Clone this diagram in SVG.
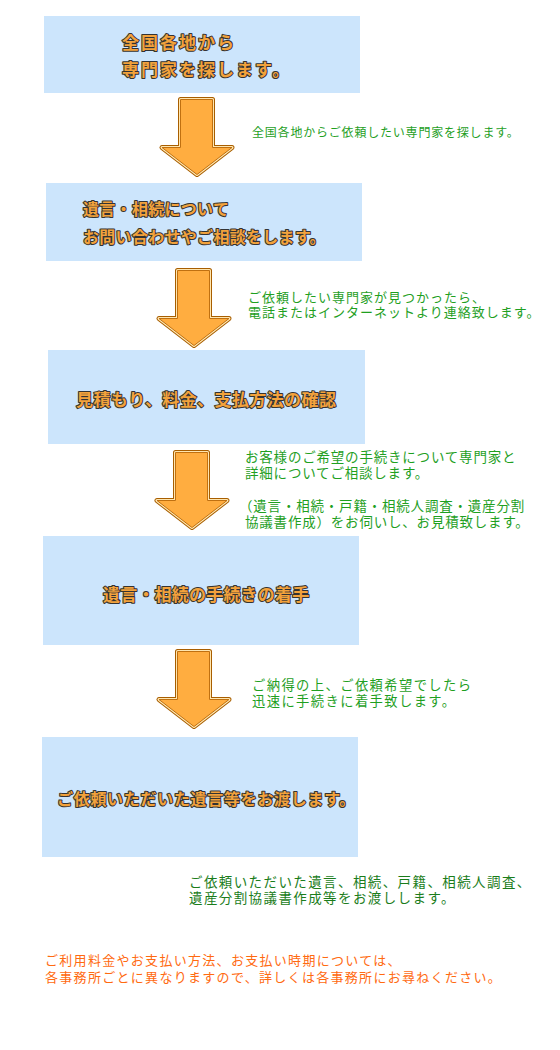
<svg xmlns="http://www.w3.org/2000/svg" xmlns:xlink="http://www.w3.org/1999/xlink" width="560" height="1050" viewBox="0 0 560 1050">
<style>
.box{fill:#cce5fc}
.bt{font-family:"Liberation Sans","Noto Sans CJK JP",sans-serif;font-weight:bold;fill:#f2a23c;stroke:#333;stroke-width:2;paint-order:stroke;stroke-linejoin:round}
.gt{font-family:"Liberation Sans","Noto Sans CJK JP",sans-serif;fill:#1fa01f}
.dg{font-family:"Liberation Sans","Noto Sans CJK JP",sans-serif;fill:#1b7d1b}
.ot{font-family:"Liberation Sans","Noto Sans CJK JP",sans-serif;fill:#ff6a10}
</style>
<defs>
<g id="arrow">
<path d="M180.5,99.5 H212.5 V147.5 H232 L197,174.5 L162,147.5 H180.5 Z" fill="none" stroke="#a85e00" stroke-width="5" stroke-linejoin="round"/>
<path d="M180.5,99.5 H212.5 V147.5 H232 L197,174.5 L162,147.5 H180.5 Z" fill="none" stroke="#ffe6b0" stroke-width="3" stroke-linejoin="round"/>
<path d="M180.5,99.5 H212.5 V147.5 H232 L197,174.5 L162,147.5 H180.5 Z" fill="#ffad40" stroke="#c07010" stroke-width="1" stroke-linejoin="round"/>
</g>
</defs>
<rect width="560" height="1050" fill="#ffffff"/>
<g id="connectors">
<use xlink:href="#arrow" href="#arrow"/>
<use xlink:href="#arrow" href="#arrow" transform="translate(-3,171)"/>
<use xlink:href="#arrow" href="#arrow" transform="translate(-5,353)"/>
<use xlink:href="#arrow" href="#arrow" transform="translate(-3,552)"/>
</g>
<g id="box1">
<rect class="box" x="44" y="16" width="316" height="77"/>
<text class="bt" font-size="17" letter-spacing="2"><tspan x="122" y="49">全国各地から</tspan><tspan x="122" y="76">専門家を探します。</tspan></text>
</g>
<g id="box2">
<rect class="box" x="46" y="183" width="316" height="78"/>
<text class="bt" font-size="16" letter-spacing="0.3"><tspan x="83" y="215">遺言・相続について</tspan><tspan x="83" y="243">お問い合わせやご相談をします。</tspan></text>
</g>
<g id="box3">
<rect class="box" x="48" y="350" width="317" height="94"/>
<text class="bt" x="76" y="406" font-size="17" letter-spacing="0.4">見積もり、料金、支払方法の確認</text>
</g>
<g id="box4">
<rect class="box" x="43" y="536" width="316" height="109"/>
<text class="bt" x="103" y="601" font-size="17" letter-spacing="0.2">遺言・相続の手続きの着手</text>
</g>
<g id="box5">
<rect class="box" x="42" y="737" width="316" height="120"/>
<text class="bt" x="57" y="805" font-size="16" letter-spacing="0.7">ご依頼いただいた遺言等をお渡します。</text>
</g>
<g id="note1">
<text class="gt" x="252" y="137" font-size="12" letter-spacing="0.8">全国各地からご依頼したい専門家を探します。</text>
</g>
<g id="note2">
<text class="gt" font-size="13" letter-spacing="1"><tspan x="248" y="302">ご依頼したい専門家が見つかったら、</tspan><tspan x="248" y="317">電話またはインターネットより連絡致します。</tspan></text>
</g>
<g id="note3">
<text class="gt" font-size="13.5" letter-spacing="0.8"><tspan x="245" y="462">お客様のご希望の手続きについて専門家と</tspan><tspan x="245" y="478">詳細についてご相談します。</tspan><tspan x="239" y="511">（遺言・相続・戸籍・相続人調査・遺産分割</tspan><tspan x="245" y="527">協議書作成）をお伺いし、お見積致します。</tspan></text>
</g>
<g id="note4">
<text class="gt" font-size="13.3" letter-spacing="1.4"><tspan x="252" y="690">ご納得の上、ご依頼希望でしたら</tspan><tspan x="252" y="705.5">迅速に手続きに着手致します。</tspan></text>
</g>
<g id="note5">
<text class="dg" font-size="13.5" letter-spacing="1.4"><tspan x="189" y="887">ご依頼いただいた遺言、相続、戸籍、相続人調査、</tspan><tspan x="189" y="903">遺産分割協議書作成等をお渡しします。</tspan></text>
</g>
<g id="note6">
<text class="ot" font-size="13" letter-spacing="1.3"><tspan x="45" y="965">ご利用料金やお支払い方法、お支払い時期については、</tspan><tspan x="45" y="982">各事務所ごとに異なりますので、詳しくは各事務所にお尋ねください。</tspan></text>
</g>
</svg>
